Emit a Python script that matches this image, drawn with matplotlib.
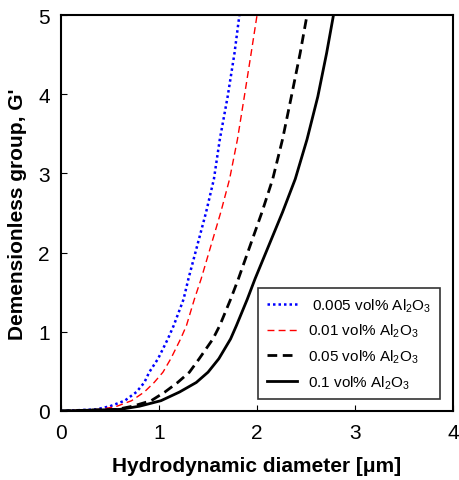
import matplotlib
matplotlib.use("Agg")
import matplotlib.pyplot as plt

plt.rcParams['font.family'] = ['Liberation Sans', 'DejaVu Sans']
plt.rcParams['mathtext.default'] = 'regular'

# points: G' values and the diameter (um) where each curve reaches them
g_vals = [0, 0.02, 0.06, 0.13, 0.24, 0.36, 0.49, 0.66, 0.91, 1.08, 1.41,
          1.67, 2.09, 2.51, 2.93, 3.43, 3.97, 4.52, 5.0]
d_0005 = [0, 0.36, 0.50, 0.65, 0.77, 0.85, 0.90, 0.99, 1.09, 1.15, 1.25,
          1.30, 1.39, 1.48, 1.56, 1.62, 1.70, 1.77, 1.82]
d_001 = [0, 0.41, 0.57, 0.72, 0.85, 0.95, 1.04, 1.12, 1.22, 1.28, 1.36,
         1.43, 1.53, 1.63, 1.72, 1.80, 1.87, 1.94, 2.00]
d_005 = [0, 0.57, 0.73, 0.92, 1.06, 1.19, 1.31, 1.41, 1.55, 1.62, 1.73,
         1.81, 1.93, 2.05, 2.16, 2.26, 2.35, 2.44, 2.51]
d_01 = [0, 0.60, 0.80, 1.02, 1.21, 1.38, 1.50, 1.61, 1.73, 1.79, 1.90,
        1.98, 2.12, 2.26, 2.39, 2.51, 2.62, 2.71, 2.78]

labels = [" 0.005 vol% Al$_2$O$_3$", "0.01 vol% Al$_2$O$_3$",
          "0.05 vol% Al$_2$O$_3$", "0.1 vol% Al$_2$O$_3$"]

fig = plt.figure(figsize=(4.59, 4.81), dpi=100)
ax = fig.add_axes([0.133, 0.1435, 0.854, 0.823])

ax.plot(d_0005, g_vals, color='#0000ff', linestyle=(0, (1, 1.2)), linewidth=1.8, label=labels[0])
ax.plot(d_001, g_vals, color='#ff0000', linestyle=(0, (5, 3)), linewidth=1.0, label=labels[1])
ax.plot(d_005, g_vals, color='black', linestyle=(0, (3.5, 2)), linewidth=2.0, label=labels[2])
ax.plot(d_01, g_vals, color='black', linestyle='-', linewidth=2.0, label=labels[3])

ax.set_xlim(0, 4)
ax.set_ylim(0, 5)
ax.set_xticks([0, 1, 2, 3, 4])
ax.set_yticks([0, 1, 2, 3, 4, 5])
ax.tick_params(direction='in', length=4, labelsize=15)
ax.tick_params(axis='x', pad=9)
ax.tick_params(axis='y', pad=8)
for s in ax.spines.values():
    s.set_linewidth(1.5)

ax.set_xlabel("Hydrodynamic diameter [\u03bcm]", fontsize=15, fontweight='bold', labelpad=10)
ax.set_ylabel("Demensionless group, G'", fontsize=15, fontweight='bold', labelpad=8)

leg = ax.legend(loc='lower right', bbox_to_anchor=(0.985, 0.01), fontsize=11,
                frameon=True, fancybox=False, edgecolor='black', handlelength=2.0,
                borderpad=0.55, labelspacing=0.55, handletextpad=0.7)
leg.get_frame().set_linewidth(1.2)

fig.savefig("out.png", dpi=100)
